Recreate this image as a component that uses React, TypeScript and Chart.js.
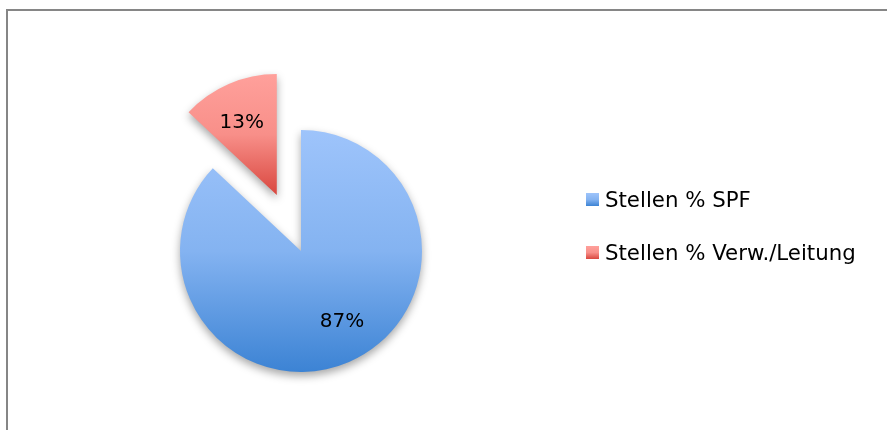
import React, { useEffect, useRef } from "react";
import { Chart, registerables } from "chart.js";

Chart.register(...registerables);

// ---- data ----
const categories = ["Stellen % SPF", "Stellen % Verw./Leitung"];
const shares = [87, 13];
const valueLabels = ["87%", "13%"];
const explodePx = [0, 61];

// ---- style ----
const FONT = '"DejaVu Sans", Lato, sans-serif';
const PIE_RADIUS = 121;
const gradientStops: [number, string][][] = [
  [
    [0, "#9ec4fb"],
    [0.5, "#84b3f1"],
    [1, "#3c83d4"],
  ],
  [
    [0, "#ffa09b"],
    [0.5, "#f88f89"],
    [1, "#d9473f"],
  ],
];
const labelNudge = [
  [9, -3],
  [-3, 2],
];

function sliceGeom(i: number) {
  const total = shares.reduce((a, b) => a + b, 0);
  const before = shares.slice(0, i).reduce((a, b) => a + b, 0);
  const start = (before / total) * Math.PI * 2 - Math.PI / 2;
  const circ = (shares[i] / total) * Math.PI * 2;
  const mid = start + circ / 2;
  return { start, circ, mid };
}

export default function App() {
  const ref = useRef<HTMLCanvasElement>(null);

  useEffect(() => {
    const canvas = ref.current!;

    const bg = (c: any) => {
      const chart = c.chart;
      const i = c.dataIndex ?? 0;
      const a = chart.chartArea;
      if (!a) return gradientStops[i][0][1];
      const cx = (a.left + a.right) / 2;
      const cy = (a.top + a.bottom) / 2;
      const g = sliceGeom(i);
      const dx = Math.cos(g.mid) * explodePx[i];
      const dy = Math.sin(g.mid) * explodePx[i];
      const pts: number[] = [cy + dy];
      const steps = 60;
      for (let k = 0; k <= steps; k++) {
        const ang = g.start + (g.circ * k) / steps;
        pts.push(cy + dy + Math.sin(ang) * PIE_RADIUS);
      }
      const top = Math.min(...pts);
      const bottom = Math.max(...pts);
      const grad = chart.ctx.createLinearGradient(cx + dx, top, cx + dx, bottom);
      gradientStops[i].forEach(([s, col]) => grad.addColorStop(s, col));
      return grad;
    };

    // move exploded slices outward along their mid angle (pure translation)
    const explodePlugin = {
      id: "explode",
      afterDatasetUpdate(chart: any, args: any) {
        const meta = args.meta;
        meta.data.forEach((arc: any, i: number) => {
          const mid = (arc.startAngle + arc.endAngle) / 2;
          arc.x += Math.cos(mid) * explodePx[i];
          arc.y += Math.sin(mid) * explodePx[i];
        });
      },
    };

    const shadowPlugin = {
      id: "pieShadow",
      beforeDatasetDraw(chart: any) {
        const ctx = chart.ctx;
        ctx.save();
        ctx.shadowColor = "rgba(0,0,0,0.35)";
        ctx.shadowBlur = 9;
        ctx.shadowOffsetX = 0;
        ctx.shadowOffsetY = 4;
      },
      afterDatasetDraw(chart: any) {
        chart.ctx.restore();
      },
    };

    const labelPlugin = {
      id: "sliceLabels",
      afterDatasetsDraw(chart: any) {
        const ctx = chart.ctx;
        const meta = chart.getDatasetMeta(0);
        ctx.save();
        ctx.fillStyle = "#000";
        ctx.font = `20px ${FONT}`;
        ctx.textAlign = "center";
        ctx.textBaseline = "middle";
        meta.data.forEach((arc: any, i: number) => {
          const p = arc.getProps(["x", "y", "startAngle", "endAngle", "outerRadius"], true);
          const mid = (p.startAngle + p.endAngle) / 2;
          const d = p.outerRadius * 0.665;
          ctx.fillText(
            valueLabels[i],
            p.x + Math.cos(mid) * d + labelNudge[i][0],
            p.y + Math.sin(mid) * d + labelNudge[i][1]
          );
        });
        ctx.restore();
      },
    };

    const legendPlugin = {
      id: "sideLegend",
      afterDraw(chart: any) {
        const ctx = chart.ctx;
        ctx.save();
        const ys = [200, 253];
        chart.data.labels.forEach((lab: string, i: number) => {
          const bx = 586;
          const by = ys[i] - 7;
          const g = ctx.createLinearGradient(0, by, 0, by + 13);
          gradientStops[i].forEach(([s, col]) => g.addColorStop(s, col));
          ctx.fillStyle = g;
          ctx.fillRect(bx, by, 13, 13);
          ctx.fillStyle = "#000";
          ctx.font = `21.3px ${FONT}`;
          ctx.textAlign = "left";
          ctx.textBaseline = "alphabetic";
          ctx.fillText(lab, 605, ys[i] + 7);
        });
        ctx.restore();
      },
    };

    const chart = new Chart(canvas, {
      type: "pie",
      data: {
        labels: categories,
        datasets: [
          {
            data: shares,
            backgroundColor: bg,
            borderWidth: 0,
            hoverOffset: 0,
            radius: PIE_RADIUS,
          } as any,
        ],
      },
      options: {
        responsive: false,
        animation: false,
        events: [],
        layout: { padding: { left: 0, right: 285, top: 72, bottom: 0 } },
        plugins: {
          legend: { display: false },
          tooltip: { enabled: false },
        },
      },
      plugins: [explodePlugin, shadowPlugin, labelPlugin, legendPlugin],
    });
    return () => chart.destroy();
  }, []);

  return (
    <div
      style={{
        position: "fixed",
        left: 0,
        top: 0,
        width: 887,
        height: 430,
        background: "#fff",
        overflow: "hidden",
      }}
    >
      <div
        style={{
          position: "absolute",
          left: 6,
          top: 9,
          width: 900,
          height: 440,
          borderLeft: "2px solid #868686",
          borderTop: "2px solid #868686",
          boxSizing: "border-box",
        }}
      />
      <canvas ref={ref} width={887} height={430} style={{ position: "absolute", left: 0, top: 0 }} />
    </div>
  );
}
